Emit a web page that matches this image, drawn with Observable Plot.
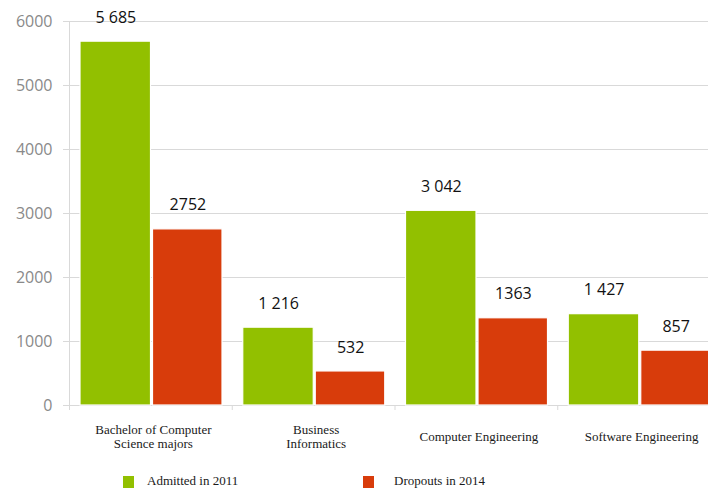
<!DOCTYPE html>
<html>
<head>
<meta charset="utf-8">
<script src="https://cdn.jsdelivr.net/npm/d3@7"></script>
<script src="https://cdn.jsdelivr.net/npm/@observablehq/plot@0.6"></script>
<style>
  body { margin: 0; background: white; }
  #wrap { position: relative; width: 708px; height: 490px; overflow: hidden; }
  .legend { position: absolute; top: 466px; left: 0; width: 708px; height: 24px;
            font-family: "Liberation Serif", "Times New Roman", serif; font-size: 13px; color: #1a1a1a; }
  .sw { position: absolute; top: 10px; width: 11px; height: 12px; }
  .lt { position: absolute; top: 7px; }
</style>
</head>
<body>
<div id="wrap"></div>
<script>
const categories = ["Bachelor of Computer Science majors", "Business Informatics", "Computer Engineering", "Software Engineering"];
const tickLabels = ["Bachelor of Computer\nScience majors", "Business\nInformatics", "Computer Engineering", "Software Engineering"];
const seriesNames = ["Admitted in 2011", "Dropouts in 2014"];
const admitted = [5685, 1216, 3042, 1427];
const dropouts = [2752, 532, 1363, 857];
const yTicks = [0, 1000, 2000, 3000, 4000, 5000, 6000];
const colors = ["#92c000", "#d83c0b"];

const admData = categories.map((c, i) => ({category: c, value: admitted[i], label: d3.format(",")(admitted[i]).replace(",", " ")}));
const dropData = categories.map((c, i) => ({category: c, value: dropouts[i], label: String(dropouts[i])}));
const labelData = categories.map((c, i) => ({category: c, label: tickLabels[i]}));

const chart = Plot.plot({
  width: 708,
  height: 462,
  marginLeft: 69,
  marginRight: 0,
  marginTop: 21,
  marginBottom: 57,
  style: {fontFamily: "'Open Sans', sans-serif", fontSize: "16px", background: "white"},
  x: {domain: categories, range: [69, 720], padding: 0, round: false, axis: null},
  y: {domain: [0, 6000], axis: null},
  marks: [
    Plot.gridY(yTicks, {stroke: "#d9d9d9", strokeOpacity: 1}),
    Plot.axisY({ticks: yTicks, tickFormat: "d", tickSize: 6, tickPadding: 11, stroke: "#d9d9d9", strokeOpacity: 1, fill: "#898989", fontSize: 16, label: null}),
    Plot.frame({anchor: "left", stroke: "#d9d9d9"}),
    Plot.axisX({tickSize: 5, fill: "none", dx: -81.375, stroke: "#d9d9d9", strokeOpacity: 1, label: null}),
    Plot.barY(admData, {x: "category", y: "value", fill: colors[0], stroke: "white", strokeWidth: 1.2, insetLeft: 11, insetRight: 81.25}),
    Plot.barY(dropData, {x: "category", y: "value", fill: colors[1], stroke: "white", strokeWidth: 1.2, insetLeft: 83.5, insetRight: 9.75}),
    Plot.text(admData, {x: "category", y: "value", text: "label", dx: -35, dy: -24, fill: "#111", fontSize: 16}),
    Plot.text(dropData, {x: "category", y: "value", text: "label", dx: 37, dy: -24, fill: "#111", fontSize: 16}),
    Plot.text(labelData, {x: "category", text: "label", frameAnchor: "bottom", dy: 31, dx: 2.5, lineAnchor: "middle", lineHeight: 1.08,
      fontFamily: "'Liberation Serif', 'Times New Roman', serif", fontSize: 13, fill: "#1a1a1a"})
  ]
});

const wrap = document.getElementById("wrap");
wrap.appendChild(chart);

const legend = document.createElement("div");
legend.className = "legend";
const positions = [[123, 147], [363, 394]];
seriesNames.forEach((name, i) => {
  const sw = document.createElement("div");
  sw.className = "sw";
  sw.style.left = positions[i][0] + "px";
  sw.style.background = colors[i];
  const t = document.createElement("div");
  t.className = "lt";
  t.style.left = positions[i][1] + "px";
  t.textContent = name;
  legend.appendChild(sw);
  legend.appendChild(t);
});
wrap.appendChild(legend);
</script>
</body>
</html>
